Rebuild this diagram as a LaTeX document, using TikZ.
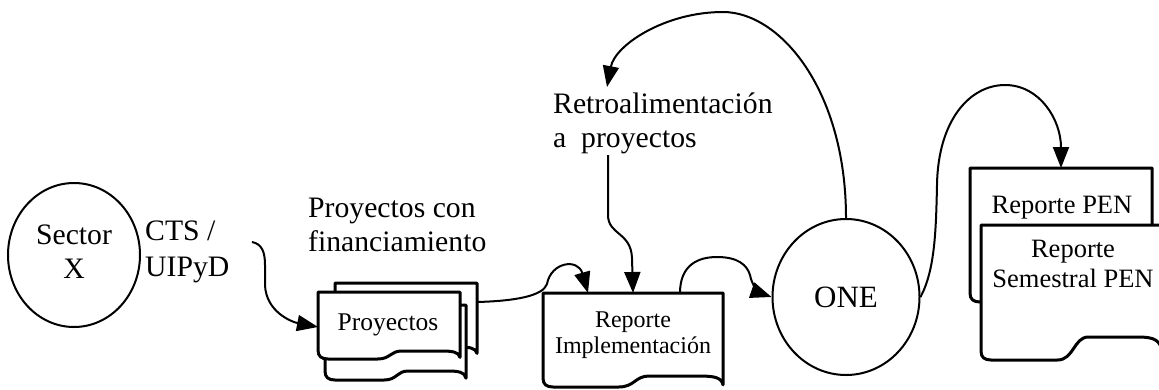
\documentclass[tikz,border=0pt]{standalone}
\usepackage{fontspec}
\setmainfont{Liberation Serif}
\usetikzlibrary{arrows.meta,shapes.geometric}
\tikzset{
  conn/.style={line width=2pt, -{Triangle[length=21pt,width=16pt]}},
  docline/.style={line width=3pt, fill=white, line join=round},
  circ/.style={ellipse, draw, line width=2pt, inner sep=0pt},
  bigtxt/.style={font=\fontsize{29.7}{34}\selectfont, inner sep=0pt},
  doctxt/.style={font=\fontsize{24}{26}\selectfont, inner sep=0pt},
  pentxt/.style={font=\fontsize{26.5}{30}\selectfont, inner sep=0pt},
}
\newcommand{\docpath}[5]{%
  \pgfmathsetmacro\dcW{#3-#1}%
  \pgfmathsetmacro\dcM{(#1+#3)/2}%
  \filldraw[docline] (#1,#4-9) -- (#1,#2) -- (#3,#2) -- (#3,#4-0.2*#5)
    .. controls (#3-0.01*\dcW,#4-0.9*#5) and (#3-0.05*\dcW,#4-#5) .. (#3-0.14*\dcW,#4-#5)
    -- (\dcM+0.09*\dcW,#4-#5)
    .. controls (\dcM+0.01*\dcW,#4-#5) and (\dcM+0.01*\dcW,#4) .. (\dcM-0.08*\dcW,#4)
    -- (#1+10,#4) .. controls (#1+3,#4) and (#1,#4-3) .. (#1,#4-9) -- cycle;%
}
\begin{document}
\begin{tikzpicture}[x=1pt,y=-1pt]
\useasboundingbox (0,0) rectangle (1159,389);
\clip (0,0) rectangle (1159,389);

% circles
\node[circ, minimum width=132pt, minimum height=144pt, bigtxt] (sector) at (74,255)
  {\begin{tabular}{@{}c@{}}Sector\\X\end{tabular}};
\node[circ, minimum width=147pt, minimum height=156pt, font=\fontsize{31}{34}\selectfont] (one) at (846,297) {ONE};

% documents: Proyectos stack
\docpath{335}{283}{477}{355}{8}
\docpath{325}{305}{466}{380}{9}
\docpath{318}{292}{460}{359}{8}
\node[font=\fontsize{25.5}{28}\selectfont, inner sep=0pt, anchor=base] (proy) at (388,330) {Proyectos};

% Reporte Implementacion
\docpath{543}{293}{723}{387}{11}
\node[doctxt, anchor=base] (ri) at (633,327)
  {\begin{tabular}[t]{@{}c@{}}Reporte\\Implementación\end{tabular}};

% Reporte PEN stack
\docpath{970}{168}{1152}{302}{20}
\node[pentxt, anchor=base] (pen) at (1062,213) {Reporte PEN};
\docpath{981}{225}{1163}{360}{23}
\node[pentxt, anchor=base] (sem) at (1073,257)
  {\begin{tabular}[t]{@{}c@{}}Reporte\\Semestral PEN\end{tabular}};

% labels
\node[bigtxt, anchor=base west] (cts) at (145,240)
  {\begin{tabular}[t]{@{}l@{}}CTS /\\[2pt]UIPyD\end{tabular}};
\node[bigtxt, anchor=base west] (projlbl) at (308,217)
  {\begin{tabular}[t]{@{}l@{}}Proyectos con\\financiamiento\end{tabular}};
\node[bigtxt, anchor=base west] (retro) at (553,113)
  {\begin{tabular}[t]{@{}l@{}}Retroalimentación\\a\ \ proyectos\end{tabular}};

% connection points
\coordinate (ctsout) at (252,242);
\coordinate (pfl) at (318,327);
\coordinate (pbr) at (477,302);
\coordinate (ri1) at (588,293);
\coordinate (ri2) at (633,293);
\coordinate (ri3) at (680,293);
\coordinate (retrobot) at (608,155);
\coordinate (retrotop) at (607,87);
\coordinate (pentop) at (1061,168);

% connectors
\draw[conn] (ctsout) .. controls (262,244) and (265,252) .. (265,265) -- (265,285)
  .. controls (266,312) and (292,322) .. (pfl);
\draw[conn] (pbr) .. controls (515,301) and (543,296) .. (547,284)
  .. controls (551,262) and (578,258) .. (ri1);
\draw[conn] (retrobot) -- (608,215) .. controls (608,235) and (631,232) .. (632,258) -- (ri2);
\draw[conn] (one.north) .. controls (846,90) and (780,12) .. (723,12)
  .. controls (665,12) and (615,45) .. (retrotop);
\draw[conn] (ri3) .. controls (680,265) and (698,257) .. (717,257)
  .. controls (738,257) and (747,265) .. (750,275)
  .. controls (752,286) and (760,293) .. (one.west);
\draw[conn] (one.east) .. controls (935,270) and (936,230) .. (937,185)
  .. controls (938,120) and (970,85) .. (1005,85)
  .. controls (1040,85) and (1061,120) .. (pentop);
\end{tikzpicture}
\end{document}
